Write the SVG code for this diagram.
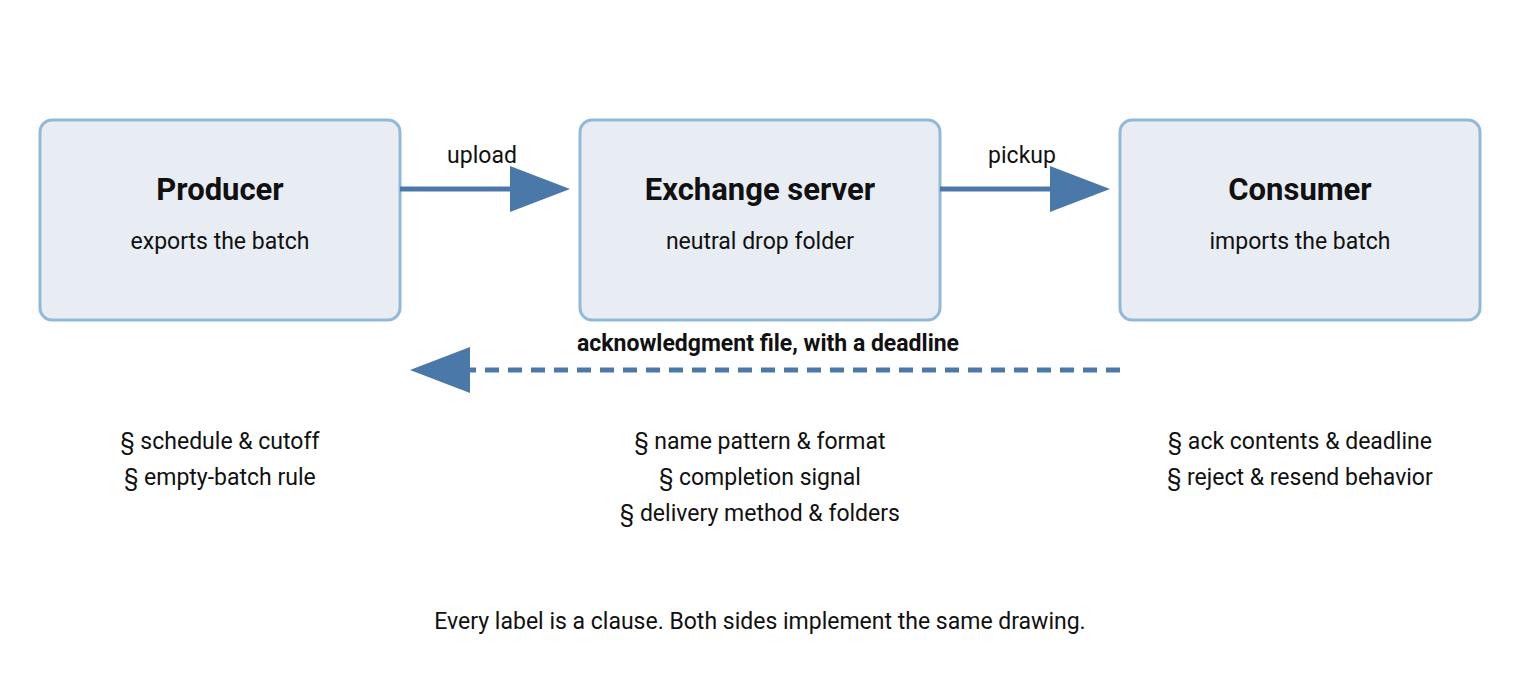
<svg xmlns="http://www.w3.org/2000/svg" width="1520" height="700" viewBox="0 0 1520 700">
<style>
.box{fill:#e8edf4;stroke:#92b9d7;stroke-width:3}
.t{font-family:Roboto,"Liberation Sans",sans-serif;fill:#111;text-anchor:middle}
.h{font-size:31px;font-weight:bold}
.s{font-size:23px}
.ln{stroke:#4a78a8;stroke-width:5;fill:none}
.hd{fill:#4a78a8}
</style>
<rect width="1520" height="700" fill="#fff"/>
<g id="producer"><rect class="box" x="40" y="120" width="360" height="200" rx="12"/>
<text class="t h" x="220" y="200">Producer</text><text class="t s" x="220" y="249">exports the batch</text></g>
<g id="exchange"><rect class="box" x="580" y="120" width="360" height="200" rx="12"/>
<text class="t h" x="760" y="200">Exchange server</text><text class="t s" x="760" y="249">neutral drop folder</text></g>
<g id="consumer"><rect class="box" x="1120" y="120" width="360" height="200" rx="12"/>
<text class="t h" x="1300" y="200">Consumer</text><text class="t s" x="1300" y="249">imports the batch</text></g>
<g id="connectors">
<line class="ln" x1="400" y1="189" x2="512" y2="189"/><polygon class="hd" points="510,166 570,189 510,212"/>
<text class="t s" x="482" y="163">upload</text>
<line class="ln" x1="940" y1="189" x2="1052" y2="189"/><polygon class="hd" points="1050,166 1110,189 1050,212"/>
<text class="t s" x="1022" y="163">pickup</text>
<line class="ln" x1="1120" y1="370" x2="470" y2="370" stroke-dasharray="14,9"/><polygon class="hd" points="470,347 410,370 470,393"/>
<text class="t s" x="768" y="351" font-weight="bold">acknowledgment file, with a deadline</text>
</g>
<g id="clauses" class="t s">
<text x="220" y="449">§ schedule &amp; cutoff</text><text x="220" y="485">§ empty-batch rule</text>
<text x="760" y="449">§ name pattern &amp; format</text><text x="760" y="485">§ completion signal</text><text x="760" y="521">§ delivery method &amp; folders</text>
<text x="1300" y="449">§ ack contents &amp; deadline</text><text x="1300" y="485">§ reject &amp; resend behavior</text>
<text x="760" y="629">Every label is a clause. Both sides implement the same drawing.</text>
</g>
</svg>
